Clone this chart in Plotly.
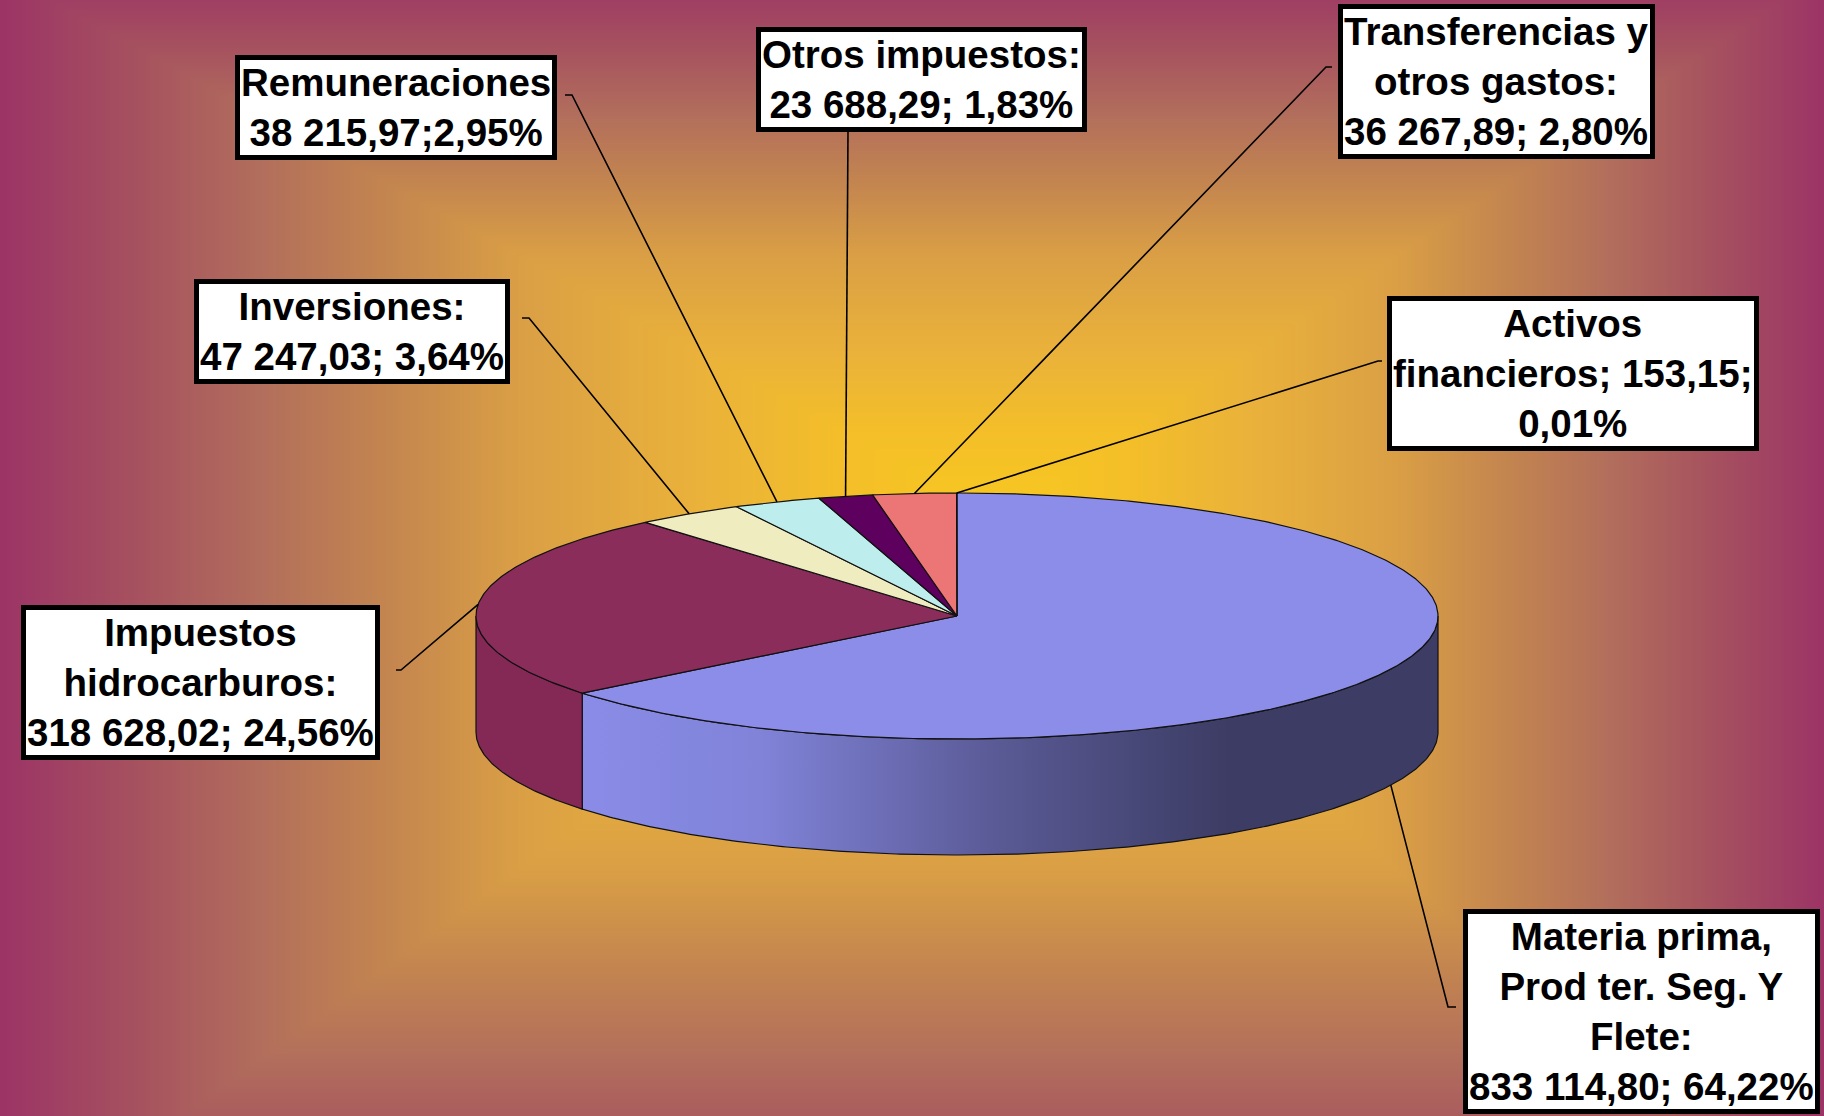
import numpy as np
import plotly.graph_objects as go

# ---------------- data ----------------
categories = [
    "Materia prima, Prod ter. Seg. Y Flete",
    "Impuestos hidrocarburos",
    "Inversiones",
    "Remuneraciones",
    "Otros impuestos",
    "Transferencias y otros gastos",
    "Activos financieros",
]
values = [833114.80, 318628.02, 47247.03, 38215.97, 23688.29, 36267.89, 153.15]
label_texts = [
    "Materia prima,<br>Prod ter. Seg. Y<br>Flete:<br>833 114,80; 64,22%",
    "Impuestos<br>hidrocarburos:<br>318 628,02; 24,56%",
    "Inversiones:<br>47 247,03; 3,64%",
    "Remuneraciones<br>38 215,97;2,95%",
    "Otros impuestos:<br>23 688,29; 1,83%",
    "Transferencias y<br>otros gastos:<br>36 267,89; 2,80%",
    "Activos<br>financieros; 153,15;<br>0,01%",
]

# ---------------- styles / layout ----------------
top_colors = ["#8B8DE9", "#8B2D5B", "#EFEDC0", "#BDEDED", "#5E005E", "#EC7576", "#0B5CB8"]
side_colors = ["#8B8DE9", "#842856", "#E0DEB0", "#AEDEDE", "#4E004E", "#D86668", "#0A50A0"]
W, H = 1824, 1116
CX, CY, RX, RY, DEPTH = 957, 616, 481, 123, 116

label_pos = [(1641, 1011), (200, 682), (352, 331), (396, 107), (921, 79), (1496, 81), (1573, 373)]
leader_via = [
    [(1448, 1007), (1456, 1007)],
    [(401, 670), (396, 670)],
    [(529, 318), (522, 318)],
    [(572, 95), (565, 95)],
    [(848, 131)],
    [(1326, 67), (1332, 67)],
    [(1378, 361), (1382, 361)],
]
leader_on_base = [True, False, False, False, False, False, False]

fig = go.Figure()

# ---------------- background (rectangular "from centre" gradient) ----------------
BX, BY, L0, R0, T0, B0 = 1000, 516, 0, 1824, -27, 1250
xs = np.arange(0, W + 1, 6, dtype=float)
ys = np.arange(0, H + 1, 6, dtype=float)
X, Y = np.meshgrid(xs, ys)
sh = np.where(X < BX, (X - L0) / (BX - L0), (R0 - X) / (R0 - BX))
sv = np.where(Y < BY, (Y - T0) / (BY - T0), (B0 - Y) / (B0 - BY))
S = np.clip(np.minimum(sh, sv), 0, 1)
bg_scale = [[0, "#9C3466"], [0.13, "#A5505F"], [0.26, "#B26E5C"], [0.39, "#C4864F"],
            [0.52, "#DA9F45"], [0.7, "#EAB23A"], [0.85, "#F4BF28"], [1, "#F8C820"]]
fig.add_trace(go.Heatmap(x=xs, y=ys, z=S, colorscale=bg_scale, zmin=0, zmax=1,
                         zsmooth="best", showscale=False, hoverinfo="skip"))

# ---------------- pie geometry ----------------
fracs = np.array(values) / np.sum(values)
ends = 90 - 360 * np.cumsum(fracs)
starts = ends + 360 * fracs


def rim(theta_deg, dy=0.0):
    t = np.radians(theta_deg)
    return CX + RX * np.cos(t), CY - RY * np.sin(t) + dy


def arc(a, b):
    n = max(2, int(abs(a - b) / 0.5) + 2)
    th = np.linspace(a, b, n)
    return rim(th)


# side walls (front half only)
for i in range(len(values)):
    for lo_f, hi_f in [(-180, 0), (-540, -360)]:
        hi = min(starts[i], hi_f)
        lo = max(ends[i], lo_f)
        if hi <= lo:
            continue
        tx, ty = arc(hi, lo)
        bx, by = tx[::-1], ty[::-1] + DEPTH
        px = np.concatenate([tx, bx, tx[:1]])
        py = np.concatenate([ty, by, ty[:1]])
        kw = dict(x=px, y=py, mode="lines", fill="toself",
                  line=dict(color="#111111", width=1.2), hoverinfo="skip", showlegend=False)
        if i == 0:
            kw["fillgradient"] = dict(type="horizontal",
                                      colorscale=[[0, "#8B8DE9"], [0.3, "#8083D8"],
                                                  [0.65, "#5A5A96"], [1, "#3C3C64"]],
                                      start=558, stop=1230)
        else:
            kw["fillcolor"] = side_colors[i]
        fig.add_trace(go.Scatter(**kw))

# top faces
for i in range(len(values)):
    ax, ay = arc(starts[i], ends[i])
    px = np.concatenate([[CX], ax, [CX]])
    py = np.concatenate([[CY], ay, [CY]])
    fig.add_trace(go.Scatter(x=px, y=py, mode="lines", fill="toself", fillcolor=top_colors[i],
                             line=dict(color="#111111", width=1.2), hoverinfo="skip",
                             showlegend=False))

# leader lines
mids = (starts + ends) / 2
for i in range(len(values)):
    x0, y0 = rim(mids[i], DEPTH if leader_on_base[i] else 0)
    pts = [(x0, y0)] + leader_via[i]
    fig.add_trace(go.Scatter(x=[p[0] for p in pts], y=[p[1] for p in pts], mode="lines",
                             line=dict(color="#000000", width=1.6), hoverinfo="skip",
                             showlegend=False))

# labels
for i in range(len(values)):
    fig.add_annotation(x=label_pos[i][0], y=label_pos[i][1], xref="x", yref="y",
                       text=label_texts[i], showarrow=False, align="center",
                       xanchor="center", yanchor="middle",
                       font=dict(family="Liberation Sans, Arial, sans-serif", size=38.5,
                                 color="#000000", weight="bold"),
                       bgcolor="#FFFFFF", bordercolor="#000000", borderwidth=5, borderpad=1)

fig.update_xaxes(range=[0, W], visible=False, fixedrange=True)
fig.update_yaxes(range=[H, 0], visible=False, fixedrange=True)
fig.update_layout(width=W, height=H, margin=dict(l=0, r=0, t=0, b=0),
                  paper_bgcolor="#9C3466", plot_bgcolor="#9C3466", showlegend=False)

fig.write_html("out.html", config={"displayModeBar": False},
               post_script="document.body.style.margin='0';document.body.style.overflow='hidden';")
